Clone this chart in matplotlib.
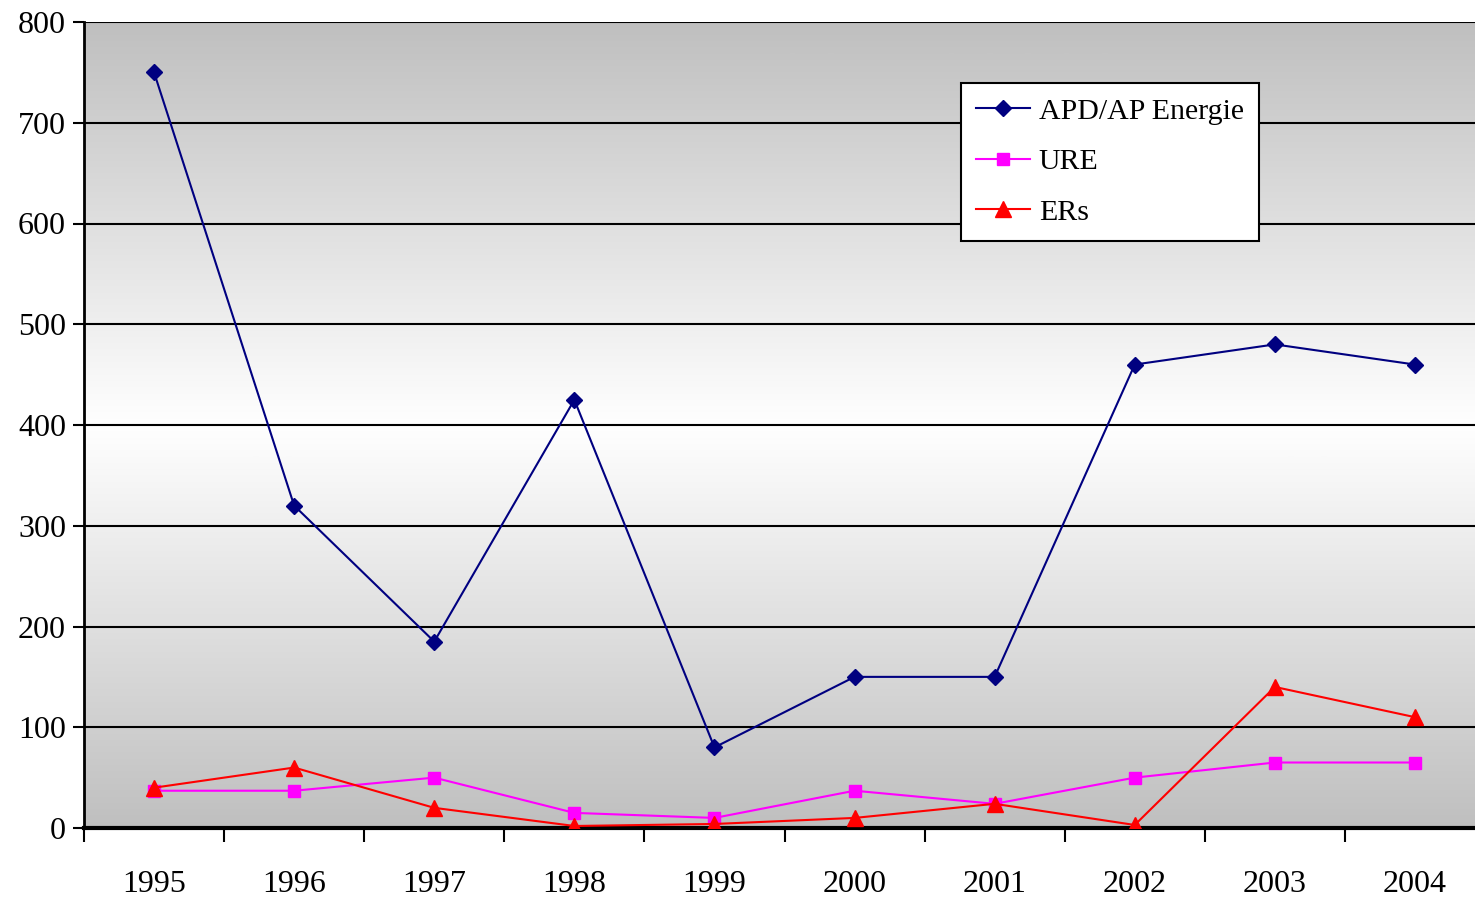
import numpy as np
import matplotlib
matplotlib.use("Agg")
import matplotlib.pyplot as plt

years = ["1995", "1996", "1997", "1998", "1999", "2000", "2001", "2002", "2003", "2004"]
apd = [750, 320, 185, 425, 80, 150, 150, 460, 480, 460]
ure = [37, 37, 50, 15, 10, 37, 24, 50, 65, 65]
ers = [40, 60, 20, 2, 4, 10, 24, 3, 140, 110]
yticks = [0, 100, 200, 300, 400, 500, 600, 700, 800]

plt.rcParams['font.family'] = ['Liberation Serif', 'DejaVu Serif']

fig = plt.figure(figsize=(14.75, 8.98), dpi=100)
# plot area runs a little past the right edge of the figure
ax = fig.add_axes([84 / 1475, 70 / 898, 1401 / 1475, 806 / 898])

x = np.arange(len(years))

# gray -> white -> gray vertical fill behind the plot area
t = np.linspace(0, 1, 256)
shade = 0.75 + 0.25 * (1 - np.abs(2 * t - 1))
grad = np.dstack([shade, shade, shade])[0][:, None, :]
ax.imshow(grad, extent=[-0.5, 9.5, 0, 800], aspect='auto', origin='lower', zorder=0,
          interpolation='bilinear')

ax.set_xlim(-0.5, 9.5)
ax.set_ylim(0, 800)

for v in yticks[1:]:
    ax.axhline(v, color='black', lw=1.5, zorder=1)

ax.plot(x, apd, color='#000080', lw=1.5, marker='D', ms=8, label='APD/AP Energie', zorder=3)
ax.plot(x, ure, color='#FF00FF', lw=1.5, marker='s', ms=8.5, label='URE', zorder=3)
ax.plot(x, ers, color='#FF0000', lw=1.5, marker='^', ms=11, label='ERs', zorder=3)

ax.set_yticks(yticks)
ax.set_yticklabels([str(v) for v in yticks], fontsize=23)
ax.set_xticks(x)
ax.set_xticklabels(years, fontsize=23)
ax.set_xticks(np.arange(-0.5, 10, 1), minor=True)
ax.tick_params(axis='x', which='major', length=0, pad=30)
ax.tick_params(axis='x', which='minor', length=10, width=1.5, direction='out')
ax.tick_params(axis='y', length=8, width=1.5, direction='out', pad=5)

for s in ['top', 'right']:
    ax.spines[s].set_visible(False)
ax.spines['left'].set_linewidth(2)
ax.spines['bottom'].set_linewidth(3)

leg = ax.legend(loc='upper left', bbox_to_anchor=(877 / 1401, 1 - 61 / 806),
                fontsize=21.5, frameon=True, fancybox=False, edgecolor='black',
                handlelength=1.8, handletextpad=0.3, labelspacing=0.79,
                borderpad=0.5, borderaxespad=0)
leg.get_frame().set_linewidth(1.5)
leg.get_frame().set_facecolor('white')
leg.get_frame().set_alpha(1)

fig.savefig("out.png", dpi=100)
